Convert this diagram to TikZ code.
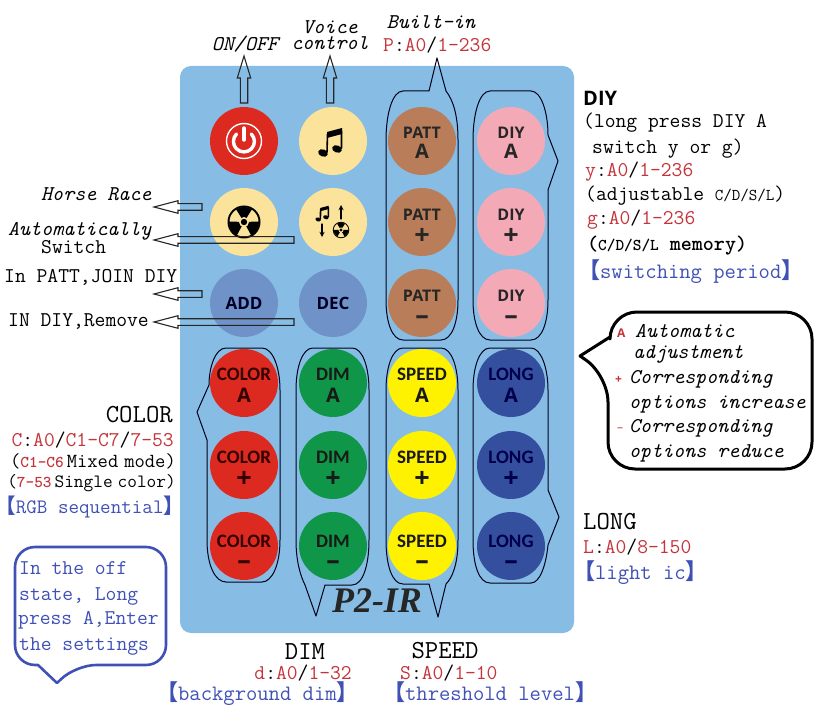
\documentclass[tikz,border=0pt]{standalone}
\usepackage{fontspec}
\newfontfamily\cjk{Noto Sans CJK SC}
\newfontfamily\btnface{Open Sans}
\newfontfamily\btnnarrow{Carlito}
\newfontfamily\modelface{Liberation Serif}
\definecolor{panelblue}{HTML}{87BDE5}
\definecolor{btnred}{HTML}{DD2A20}
\definecolor{btncream}{HTML}{FBE39B}
\definecolor{btnslate}{HTML}{6F93C8}
\definecolor{btnbrown}{HTML}{B97E59}
\definecolor{btnpink}{HTML}{F4A9B7}
\definecolor{btngreen}{HTML}{0F9648}
\definecolor{btnyellow}{HTML}{FFF200}
\definecolor{btnnavy}{HTML}{344F9E}
\definecolor{inkred}{HTML}{C4343A}
\definecolor{inkblue}{HTML}{3F51B5}
\newcommand{\lbr}{\kern-.55em{\cjk\bfseries 【}}
\newcommand{\rbr}{{\cjk\bfseries 】}\kern-.55em}
\newcommand{\rd}[1]{\textcolor{inkred}{#1}}
\newcommand{\sml}[1]{{\fontsize{16.5}{18}\selectfont #1}}
\tikzset{
	lbl/.style={inner sep=0pt,anchor=base west,font=\fontsize{21}{24}\selectfont\ttfamily},
	lble/.style={lbl,anchor=base east},
	lblc/.style={lbl,anchor=base},
	ital/.style={font=\fontsize{21}{24}\selectfont\ttfamily\itshape},
	big/.style={font=\fontsize{26}{28}\selectfont\ttfamily},
	blu/.style={text=inkblue,font=\fontsize{22}{24}\selectfont\ttfamily},
	btn/.style={circle,minimum size=68pt,inner sep=0pt},
	btnup/.style={inner sep=0pt,anchor=base,font=\btnface\bfseries\fontsize{16}{18}\selectfont},
	btnlow/.style={inner sep=0pt,anchor=base,font=\btnnarrow\bfseries\fontsize{19}{20}\selectfont},
	signa/.style={inner sep=0pt,anchor=base,font=\btnface\bfseries\fontsize{20}{20}\selectfont},
	signb/.style={inner sep=0pt,anchor=base,font=\btnface\bfseries\fontsize{27}{27}\selectfont},
	bracket/.style={draw=black!90!blue,line width=1pt},
	openarrow/.style={draw=black!85,line width=1.1pt,line join=miter},
	notes/.pic={
		\fill (-3,-11)--(12,-15)--(12,-9)--(-3,-5)--cycle;
		\draw[line width=1.6pt] (-2.5,-9)--(-3,9) (11.5,-12)--(11.5,5);
		\fill[rotate around={-20:(-7,10)}] (-7,10) ellipse (5 and 3.6);
		\fill[rotate around={-20:(7,6)}] (7,6) ellipse (5 and 3.6);
	},
	fan/.pic={
		\fill circle (16.5);
		\fill[btncream] circle (14.5);
		\foreach \a in {270,30,150}
			\fill (0,0)--(\a-32:15) arc (\a-32:\a+32:15)--cycle;
		\fill[btncream] circle (5);
		\fill circle (3.2);
	}
}
\begin{document}
\begin{tikzpicture}[x=1pt,y=-1pt,line cap=round,line join=round,>=stealth]
	\useasboundingbox (0,0) rectangle (824,711);
	\fill[panelblue,rounded corners=11pt] (180,66) rectangle (574,633);
	% buttons
	\node[btn,fill=btnred] (power) at (244,141) {};
	\node[btn,fill=btncream] (voice) at (333,141) {};
	\node[btn,fill=btncream] (horse) at (244,222) {};
	\node[btn,fill=btncream] (auto) at (333,222) {};
	\node[btn,fill=btnslate,text=black!85!blue,font=\btnface\bfseries\fontsize{17}{20}\selectfont] (add) at (244,303) {ADD};
	\node[btn,fill=btnslate,text=black!85!blue,font=\btnface\bfseries\fontsize{17}{20}\selectfont] (dec) at (333,303) {DEC};
	\foreach \cx/\nm/\txt/\tint in {422/patt/PATT/btnbrown,511/diy/DIY/btnpink}{
		\node[btn,fill=\tint] (\nm a) at (\cx,141) {};
		\node[btn,fill=\tint] (\nm p) at (\cx,222) {};
		\node[btn,fill=\tint] (\nm m) at (\cx,303) {};
		\node[btnup,text=black!85] (\nm at) at (\cx,139) {\txt};
		\node[btnup,text=black!85] (\nm pt) at (\cx,221) {\txt};
		\node[btnup,text=black!85] (\nm mt) at (\cx,301) {\txt};
		\node[signa,text=black!85] (\nm as) at (\cx,159) {A};
		\node[signb,text=black!85] (\nm ps) at (\cx,245) {+};
		\node[signb,text=black!85] (\nm ms) at (\cx,324) {–};}
	\foreach \cx/\nm/\txt/\tint/\ink in {244/color/COLOR/btnred/black!80!red,333/dim/DIM/btngreen/black!90,422/speed/SPEED/btnyellow/black!90,511/long/LONG/btnnavy/black!70!blue}{
		\node[btn,fill=\tint] (\nm a) at (\cx,383) {};
		\node[btn,fill=\tint] (\nm p) at (\cx,465) {};
		\node[btn,fill=\tint] (\nm m) at (\cx,546) {};
		\node[btnlow,text=\ink] (\nm at) at (\cx,380) {\txt};
		\node[btnlow,text=\ink] (\nm pt) at (\cx,463) {\txt};
		\node[btnlow,text=\ink] (\nm mt) at (\cx,547) {\txt};
		\node[signa,text=\ink] (\nm as) at (\cx,402) {A};
		\node[signb,text=\ink] (\nm ps) at (\cx,487) {+};
		\node[signb,text=\ink] (\nm ms) at (\cx,569) {–};}
	% icons
	\draw[white,line width=1.4pt] (power) circle (17.5);
	\draw[white,line width=3.4pt] (236.5,134) arc (225:-45:10.5);
	\draw[white,line width=3.4pt] (244,128)--(244,140);
	\pic at (330,143) {notes};
	\pic at (244,222) {fan};
	\pic[scale=0.55] at (322,214) {notes};
	\pic[scale=0.5] at (341,230) {fan};
	\draw[->,line width=1.3pt] (341,219)--(341,205);
	\draw[->,line width=1.3pt] (322,224)--(322,237);
	% brackets
	\draw[bracket] (403,91)--(429,91)--(437,58)--(446,91) .. controls (453,100) and (458,115) .. (458,140)--(458,300) .. controls (458,322) and (452,340) .. (441,340)--(403,340) .. controls (392,340) and (386,322) .. (386,300)--(386,140) .. controls (386,115) and (392,91) .. (403,91)--cycle;
	\draw[bracket] (490,91)--(531,91) .. controls (541,91) and (548,112) .. (548,135)--(558,161)--(548,190)--(548,300) .. controls (548,322) and (542,340) .. (531,340)--(490,340) .. controls (479,340) and (473,322) .. (473,300)--(473,140) .. controls (473,115) and (479,91) .. (490,91)--cycle;
	\draw[bracket] (226,348)--(262,348) .. controls (273,348) and (280,368) .. (280,390)--(280,540) .. controls (280,565) and (272,582) .. (262,582)--(226,582) .. controls (215,582) and (207,565) .. (207,540)--(207,440)--(197,412)--(209,385) .. controls (209,368) and (215,348) .. (226,348)--cycle;
	\draw[bracket] (313,348)--(352,348) .. controls (363,348) and (369,368) .. (369,390)--(369,540) .. controls (369,565) and (363,585) .. (352,585)--(325,585)--(316,616)--(305,585) .. controls (300,575) and (296,560) .. (296,540)--(296,390) .. controls (296,368) and (302,348) .. (313,348)--cycle;
	\draw[bracket] (403,348)--(441,348) .. controls (452,348) and (458,368) .. (458,390)--(458,540) .. controls (458,565) and (452,578) .. (446,584)--(438,617)--(429,584)--(403,584) .. controls (392,584) and (386,565) .. (386,540)--(386,390) .. controls (386,368) and (392,348) .. (403,348)--cycle;
	\draw[bracket] (490,348)--(531,348) .. controls (541,348) and (548,368) .. (548,390)--(548,490)--(559,517)--(548,545) .. controls (546,565) and (540,583) .. (531,583)--(490,583) .. controls (479,583) and (473,565) .. (473,540)--(473,390) .. controls (473,368) and (479,348) .. (490,348)--cycle;
	% open arrows
	\foreach \y/\tail in {207/202,240/294,294/202,322/294}
		\draw[openarrow] (\tail,\y-3.3)--(178,\y-3.3)--(178,\y-6.3)--(154,\y)--(178,\y+6.3)--(178,\y+3.3)--(\tail,\y+3.3)--cycle;
	\foreach \x in {244,330}
		\draw[openarrow] (\x-3.7,103)--(\x-3.7,78)--(\x-6.7,78)--(\x,56)--(\x+6.7,78)--(\x+3.7,78)--(\x+3.7,103)--cycle;
	% top labels
	\node[lblc,ital] (onoff) at (245,51) {ON/OFF};
	\node[lblc,ital] (voicea) at (330,34) {Voice};
	\node[lblc,ital] (voiceb) at (330,50) {control};
	\node[lblc,ital] (builtin) at (431,29) {Built-in};
	\node[lbl] (pattval) at (383,52) {\rd{P}:\rd{A0}/\rd{1-236}};
	% left labels
	\node[lbl,ital] (race) at (41,201) {Horse Race};
	\node[lbl,ital] (autoa) at (8,236) {Automatically};
	\node[lbl] (autob) at (41,254) {Switch};
	\node[lbl] (join) at (4,283) {In PATT,JOIN DIY};
	\node[lbl] (remove) at (8,326) {IN DIY,Remove};
	% DIY
	\node[lbl,font=\btnface\bfseries\fontsize{20}{22}\selectfont] (diyhead) at (583,106) {DIY};
	\node[lbl] (diya) at (583,128) {(long press DIY A};
	\node[lbl] (diyb) at (592,154) {switch y or g)};
	\node[lbl] (diyc) at (585,177) {\rd{y}:\rd{A0}/\rd{1-236}};
	\node[lbl] (diyd) at (585,201) {(adjustable \sml{C/D/S/L})};
	\node[lbl] (diye) at (587,225) {\rd{g}:\rd{A0}/\rd{1-236}};
	\node[lbl] (diyf) at (587,251) {\bfseries(\sml{C/D/S/L} memory)};
	\node[lbl,blu] (diyg) at (590,278) {\lbr switching period\rbr};
	% COLOR
	\node[lble,big] (colorhead) at (173,422) {COLOR};
	\node[lble] (colora) at (174,446) {\rd{C}:\rd{A0}/\rd{C1-C7}/\rd{7-53}};
	\node[lble] (colorb) at (176,467) {\fontsize{20}{24}\selectfont(\rd{\bfseries\sml{C1-C6}}\kern3pt Mixed\kern6pt mode)};
	\node[lble] (colorc) at (176,487) {\fontsize{18.8}{24}\selectfont(\rd{\bfseries\sml{7-53}}\kern3pt Single\kern5pt color)};
	\node[lble,text=inkblue] (colord) at (173,513) {\fontsize{20.5}{24}\selectfont\lbr RGB sequential\rbr};
	% DIM and SPEED
	\node[lblc,big] (dimhead) at (305,659) {DIM};
	\node[lble] (dima) at (352,679) {\rd{d}:\rd{A0}/\rd{1-32}};
	\node[lbl,blu] (dimb) at (168,700) {\lbr background dim\rbr};
	\node[lblc,big] (speedhead) at (445,658) {SPEED};
	\node[lbl] (speeda) at (400,679) {\rd{S}:\rd{A0}/\rd{1-10}};
	\node[lbl,blu] (speedb) at (395,700) {\lbr threshold level\rbr};
	% LONG
	\node[lbl,big,anchor=base west] (longhead) at (583,529) {LONG};
	\node[lbl] (longa) at (583,553) {\rd{L}:\rd{A0}/\rd{8-150}};
	\node[lbl,blu] (longb) at (585,579) {\lbr light ic\rbr};
	% callouts
	\draw[line width=3pt,rounded corners=27pt] (700,312)--(812,312)--(812,469)--(608,469)--(608,375)[sharp corners]--(580,356)--(610,337)[rounded corners=27pt]--(610,312)--cycle;
	\draw[inkblue,line width=2.6pt,rounded corners=20pt] (90,547)--(166,547)--(166,665)--(76,665)[sharp corners]--(57,683)--(38,665)[rounded corners=20pt]--(15,665)--(15,547)--cycle;
	\node[lbl,text=inkred,font=\btnface\bfseries\fontsize{12}{14}\selectfont] (signa) at (617,337) {A};
	\node[lbl,ital] (autoadj) at (635,337) {Automatic};
	\node[lbl,ital] (autoadjb) at (633,358) {adjustment};
	\node[lbl,text=inkred,font=\btnface\bfseries\fontsize{12}{14}\selectfont] (signp) at (615,383) {+};
	\node[lbl,ital] (inca) at (629,383) {Corresponding};
	\node[lbl,ital] (incb) at (629,408) {options increase};
	\node[lbl,text=inkred,font=\btnface\fontsize{12}{14}\selectfont] (signm) at (617,431) {–};
	\node[lbl,ital] (reda) at (629,432) {Corresponding};
	\node[lbl,ital] (redb) at (629,457) {options reduce};
	\node[lbl,text=inkblue] (offa) at (19,574) {In the off};
	\node[lbl,text=inkblue] (offb) at (19,600) {state, Long};
	\node[lbl,text=inkblue] (offc) at (18,624) {press A,Enter};
	\node[lbl,text=inkblue] (offd) at (19,650) {the settings};
	% model name
	\node[inner sep=0pt,anchor=base,text=black!85,font=\modelface\bfseries\itshape\fontsize{36}{38}\selectfont] (model) at (377,612) {P2-IR};
\end{tikzpicture}
\end{document}
